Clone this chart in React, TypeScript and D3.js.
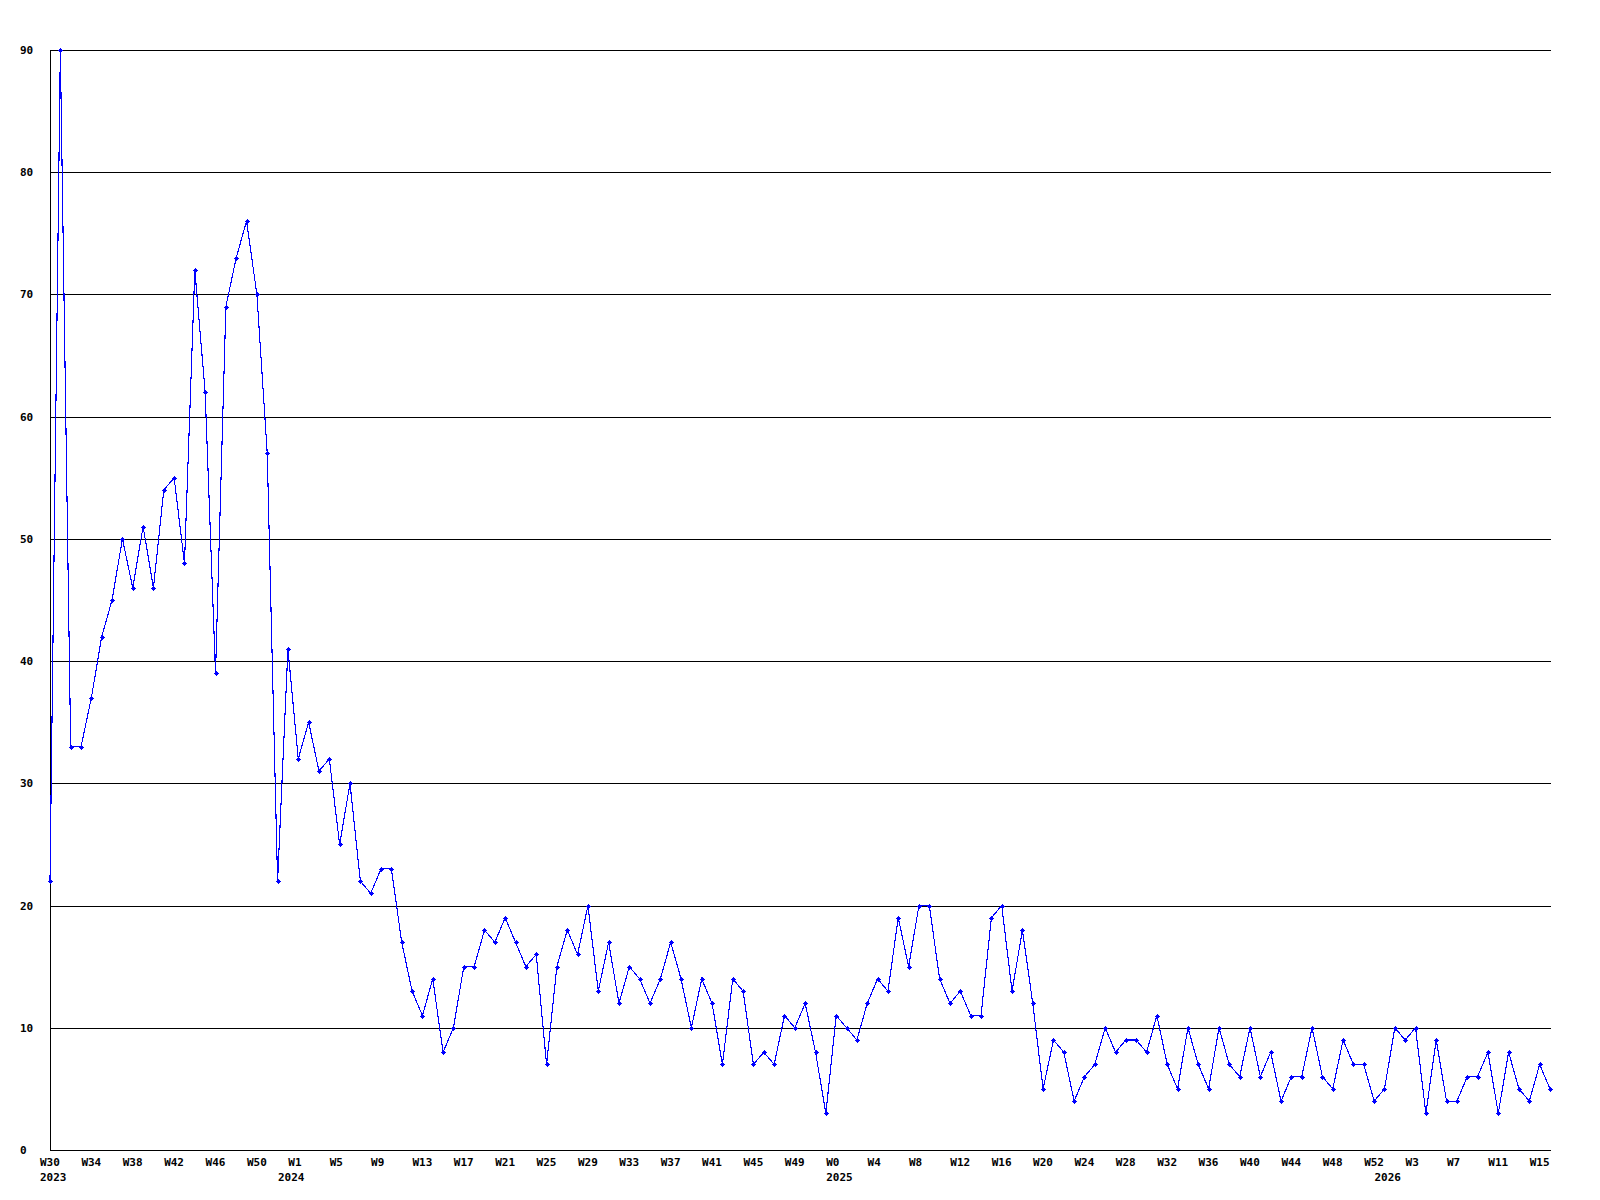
import React from "react";
import * as d3 from "d3";

// Week buckets per year (first and last week number present)
const yearNames = [2023, 2024, 2025, 2026];
const firstWeeks = [30, 0, 0, 0];
const lastWeeks = [52, 52, 52, 16];

// Weekly counts, in bucket order
const values2023 = [22, 90, 33, 33, 37, 42, 45, 50, 46, 51, 46, 54, 55, 48, 72, 62, 39, 69, 73, 76, 70, 57, 22];
const values2024 = [
  41, 32, 35, 31, 32, 25, 30, 22, 21, 23, 23, 17, 13, 11, 14, 8, 10,
  15, 15, 18, 17, 19, 17, 15, 16, 7, 15, 18, 16, 20, 13, 17, 12, 15, 14, 12, 14, 17, 14, 10,
  14, 12, 7, 14, 13, 7, 8, 7, 11, 10, 12, 8, 3,
];
const values2025 = [
  11, 10, 9, 12, 14, 13, 19, 15, 20, 20, 14, 12, 13, 11, 11, 19, 20, 13, 18, 12, 5, 9, 8, 4, 6, 7,
  10, 8, 9, 9, 8, 11, 7, 5, 10, 7, 5, 10, 7, 6, 10, 6, 8, 4, 6, 6, 10, 6, 5, 9, 7, 7, 4,
];
const values2026 = [5, 10, 9, 10, 3, 9, 4, 4, 6, 6, 8, 3, 8, 5, 4, 7, 5];

const yTicks = [0, 10, 20, 30, 40, 50, 60, 70, 80, 90];
const labelEvery = 4;

const FONT = "'DejaVu Sans Mono', monospace";

export default function App() {
  const width = 1600;
  const height = 1200;
  const left = 50;
  const right = 1550;
  const top = 50;
  const bottom = 1150;

  const seriesByYear = [values2023, values2024, values2025, values2026];
  const buckets: { year: number; week: number; value: number; firstOfYear: boolean }[] = [];
  yearNames.forEach((yr, yi) => {
    let k = 0;
    for (let w = firstWeeks[yi]; w <= lastWeeks[yi]; w++, k++) {
      buckets.push({ year: yr, week: w, value: seriesByYear[yi][k], firstOfYear: k === 0 });
    }
  });

  const x = d3.scaleLinear().domain([0, buckets.length - 1]).range([left, right]);
  const y = d3.scaleLinear().domain([0, 90]).range([bottom, top]);

  const line = d3
    .line<{ value: number }>()
    .x((_, i) => x(i))
    .y((d) => y(d.value));

  const marker = (cx: number, cy: number, key: number) => {
    const px = Math.round(cx);
    const py = Math.round(cy);
    return (
      <g key={key} fill="#0000ff" shapeRendering="crispEdges">
        <rect x={px - 1} y={py - 1} width={3} height={3} />
        <rect x={px - 2} y={py} width={5} height={1} />
        <rect x={px} y={py - 2} width={1} height={5} />
      </g>
    );
  };

  return (
    <svg
      width={width}
      height={height}
      style={{ position: "absolute", left: 0, top: 0, background: "#fff" }}
      fontFamily={FONT}
      fontWeight="bold"
      fontSize={11}
    >
      <rect x={0} y={0} width={width} height={height} fill="#fff" />
      {/* grid lines */}
      {yTicks.map((t) => (
        <line
          key={"g" + t}
          x1={left}
          x2={right + 1}
          y1={Math.round(y(t)) + 0.5}
          y2={Math.round(y(t)) + 0.5}
          stroke="#000"
          strokeWidth={1}
          shapeRendering="crispEdges"
        />
      ))}
      {/* left axis */}
      <line
        x1={left + 0.5}
        x2={left + 0.5}
        y1={top}
        y2={bottom + 1}
        stroke="#000"
        strokeWidth={1}
        shapeRendering="crispEdges"
      />
      {/* y labels */}
      {yTicks.map((t) => (
        <text key={"yl" + t} x={20} y={Math.round(y(t)) + 4} fill="#000">
          {t}
        </text>
      ))}
      {/* x labels */}
      {buckets.map((b, i) =>
        i % labelEvery === 0 ? (
          <text key={"xl" + i} x={x(i) - 10} y={1166} fill="#000">
            {"W" + b.week}
          </text>
        ) : null
      )}
      {buckets.map((b, i) =>
        b.firstOfYear ? (
          <text key={"yr" + i} x={x(i) - 10} y={1181} fill="#000">
            {b.year}
          </text>
        ) : null
      )}
      {/* data line */}
      <path
        d={line(buckets) || ""}
        fill="none"
        stroke="#0000ff"
        strokeWidth={1.1}
        shapeRendering="crispEdges"
      />
      {buckets.map((b, i) => marker(x(i), y(b.value), i))}
    </svg>
  );
}
